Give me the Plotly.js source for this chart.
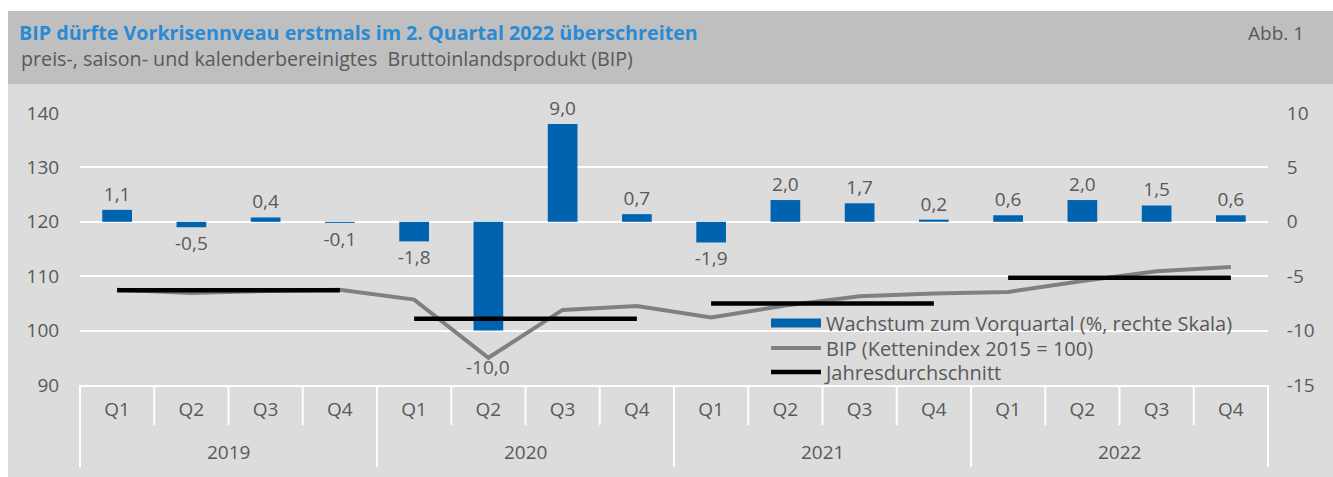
<!DOCTYPE html>
<html>
<head>
<meta charset="utf-8">
<script src="https://cdn.plot.ly/plotly-3.0.1.min.js"></script>
<style>
  html, body { margin: 0; padding: 0; background: #ffffff; }
  #wrap { position: relative; width: 1333px; height: 477px; overflow: hidden; }
  #hdr { position: absolute; left: 8px; top: 11px; width: 1325px; height: 73px; background: #bfbfbf; }
  #bg { position: absolute; left: 8px; top: 84px; width: 1325px; height: 393px; background: #dcdcdc; }
  #chart { position: absolute; left: 0; top: 0; width: 1333px; height: 477px; }
</style>
</head>
<body>
<div id="wrap">
  <div id="hdr"></div>
  <div id="bg"></div>
  <div id="chart"></div>
</div>
<script>
// ---- data ----
const years = ['2019', '2020', '2021', '2022'];
const quarters = ['Q1', 'Q2', 'Q3', 'Q4'];
const growth = [1.1, -0.5, 0.4, -0.1, -1.8, -10.0, 9.0, 0.7, -1.9, 2.0, 1.7, 0.2, 0.6, 2.0, 1.5, 0.6];
const bip = [107.5, 106.9, 107.3, 107.5, 105.7, 95.0, 103.8, 104.5, 102.4, 104.6, 106.3, 106.8, 107.1, 109.1, 110.9, 111.7];
const annualAvg = [107.4, 102.2, 105.0, 109.7];
const rightTicks = [-15, -10, -5, 0, 5, 10];
const leftTicks = [90, 100, 110, 120, 130, 140];

const names = {
  growth: 'Wachstum zum Vorquartal (%, rechte Skala)',
  bip: 'BIP (Kettenindex 2015 = 100)',
  avg: 'Jahresdurchschnitt'
};
const titleText = 'BIP dürfte Vorkrisennveau erstmals im 2. Quartal 2022 überschreiten';
const subtitleText = 'preis-, saison- und kalenderbereinigtes  Bruttoinlandsprodukt (BIP)';
const figLabel = 'Abb. 1';

const BLUE = '#0063af';
const GREY = '#808080';
const TXT = '#595959';
const FONT = '"Open Sans", "Noto Sans", sans-serif';

// category keys (year + quarter), shown as quarter ticks; years as group labels
const keys = [], qLabels = [];
years.forEach(y => quarters.forEach(q => { keys.push(y + ' ' + q); qLabels.push(q); }));
const keysOfYear = y => quarters.map(q => y + ' ' + q);
const fmt = v => v.toFixed(1).replace('.', ',');

// the label of the deepest bar sits lower (below the BIP line), as in the original
const lowIdx = growth.indexOf(Math.min(...growth));

const traces = [];
traces.push({
  type: 'bar', x: keys, y: growth, yaxis: 'y', width: 0.4,
  marker: { color: BLUE },
  text: growth.map((v, i) => i === lowIdx ? '' : fmt(v)), textposition: 'outside',
  cliponaxis: false, constraintext: 'none',
  textfont: { family: FONT, size: 19, color: TXT },
  showlegend: false, hoverinfo: 'skip'
});
// legend entry for the bars (wide blue swatch)
traces.push({
  type: 'scatter', mode: 'lines', x: [null], y: [null], yaxis: 'y2', legend: 'legend',
  name: names.growth, line: { color: BLUE, width: 9 }, hoverinfo: 'skip'
});
traces.push({
  type: 'scatter', mode: 'lines', x: keys, y: bip, yaxis: 'y2', legend: 'legend2',
  name: names.bip, line: { color: GREY, width: 4 }, hoverinfo: 'skip'
});
years.forEach((yr, i) => {
  traces.push({
    type: 'scatter', mode: 'lines', x: keysOfYear(yr), y: quarters.map(() => annualAvg[i]), yaxis: 'y2',
    name: names.avg, legend: 'legend3', legendgroup: 'avg', showlegend: i === 0,
    line: { color: '#000000', width: 4.5 }, hoverinfo: 'skip'
  });
});

// plot geometry (px) used to place decorations in paper coordinates
const PL = 80, PR = 1268, PT = 113, PB = 385, W = 1333, H = 477;
const pw = PR - PL, ph = PB - PT;
const py = px => (PB - px) / ph;       // pixel y -> paper y
const pxx = px => (px - PL) / pw;      // pixel x -> paper x

const nCat = keys.length;
const shapes = [];
for (let i = 0; i <= nCat; i++) {
  const major = i % quarters.length === 0;
  shapes.push({
    type: 'line', xref: 'paper', yref: 'paper',
    x0: i / nCat, x1: i / nCat, y0: 0, y1: py(major ? 467 : 425),
    line: { color: '#ffffff', width: 2 }
  });
}

const annotations = [
  { text: subtitleText, xref: 'paper', yref: 'paper', x: pxx(19), y: py(58), xanchor: 'left', yanchor: 'middle',
    showarrow: false, font: { family: FONT, size: 19.7, color: TXT } },
  { text: figLabel, xref: 'paper', yref: 'paper', x: pxx(1306), y: py(33), xanchor: 'right', yanchor: 'middle',
    showarrow: false, font: { family: FONT, size: 19, color: TXT } },
  { text: fmt(growth[lowIdx]), xref: 'x', yref: 'y', x: keys[lowIdx], y: growth[lowIdx],
    yanchor: 'top', yshift: -21, showarrow: false, font: { family: FONT, size: 19, color: TXT } }
];
years.forEach((yr, i) => {
  annotations.push({
    text: yr, xref: 'paper', yref: 'paper', x: (i * quarters.length + quarters.length / 2) / nCat, y: py(452),
    xanchor: 'center', yanchor: 'middle', showarrow: false, font: { family: FONT, size: 19, color: TXT }
  });
});

const legendBase = {
  x: pxx(766), xanchor: 'left', yanchor: 'middle',
  bgcolor: 'rgba(0,0,0,0)', borderwidth: 0, itemwidth: 50,
  font: { family: FONT, size: 20, color: TXT }
};

const layout = {
  width: W, height: H,
  paper_bgcolor: 'rgba(0,0,0,0)', plot_bgcolor: 'rgba(0,0,0,0)',
  margin: { l: PL, r: W - PR, t: PT, b: H - PB },
  font: { family: FONT, size: 19, color: TXT },
  showlegend: true,
  title: {
    text: '<b>' + titleText + '</b>',
    font: { family: FONT, size: 19.7, color: '#2a8ad3' },
    xref: 'container', yref: 'container', x: 19 / W, xanchor: 'left', y: 1 - 33 / H, yanchor: 'middle'
  },
  annotations: annotations,
  xaxis: {
    type: 'category', tickvals: keys, ticktext: qLabels,
    showgrid: false, showline: true, linecolor: '#ffffff', linewidth: 2,
    ticks: 'outside', ticklen: 6, tickcolor: 'rgba(0,0,0,0)',
    tickfont: { family: FONT, size: 19, color: TXT }, fixedrange: true
  },
  yaxis: {
    side: 'right', range: [-15, 10], tickvals: rightTicks, ticktext: rightTicks.map(String),
    showgrid: true, gridcolor: '#ffffff', gridwidth: 2, zeroline: false, showline: false,
    ticks: 'outside', ticklen: 14, tickcolor: 'rgba(0,0,0,0)',
    tickfont: { family: FONT, size: 19, color: TXT }, fixedrange: true
  },
  yaxis2: {
    overlaying: 'y', side: 'left', range: [90, 140], tickvals: leftTicks, ticktext: leftTicks.map(String),
    showgrid: false, zeroline: false, showline: false,
    ticks: 'outside', ticklen: 16, tickcolor: 'rgba(0,0,0,0)',
    tickfont: { family: FONT, size: 19, color: TXT }, fixedrange: true
  },
  legend: Object.assign({}, legendBase, { y: py(323) }),
  legend2: Object.assign({}, legendBase, { y: py(348) }),
  legend3: Object.assign({}, legendBase, { y: py(372) }),
  shapes: shapes
};

Plotly.newPlot('chart', traces, layout, { staticPlot: true, displayModeBar: false });
</script>
</body>
</html>
